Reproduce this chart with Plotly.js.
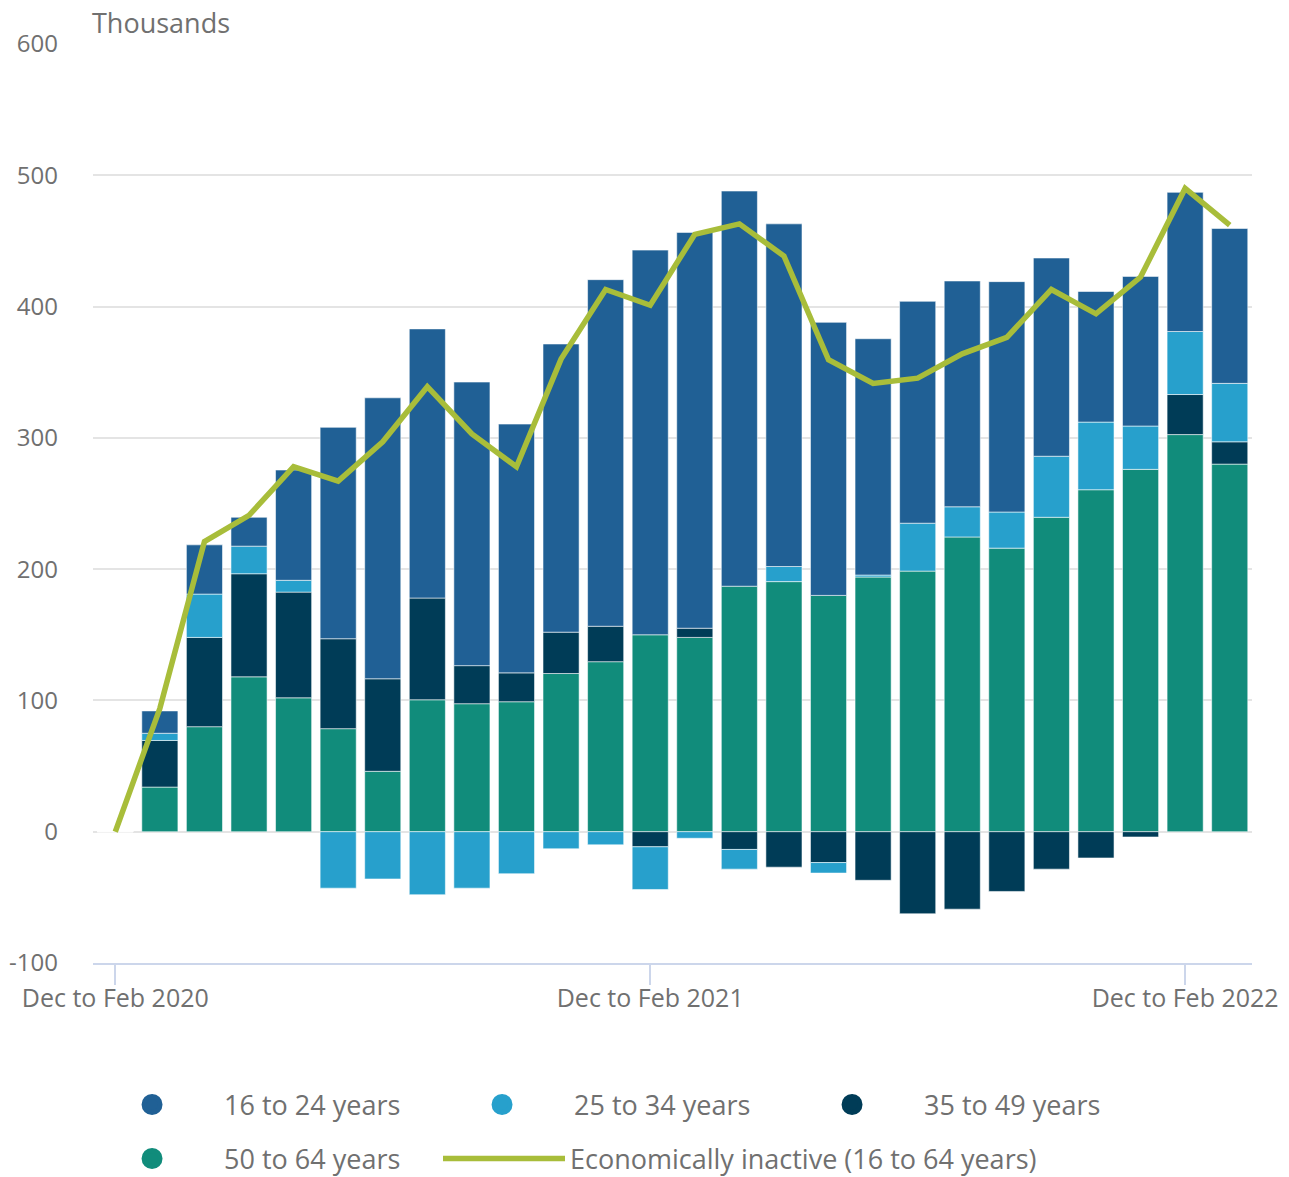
<!DOCTYPE html>
<html>
<head>
<meta charset="utf-8">
<script src="https://cdn.plot.ly/plotly-3.0.1.min.js"></script>
<style>
  html, body { margin: 0; padding: 0; background: #ffffff; }
  #chart { width: 1289px; height: 1177px; }
</style>
</head>
<body>
<div id="chart"></div>
<script>
// Rolling three-month periods
const periods = [
  "Dec to Feb 2020", "Jan to Mar 2020", "Feb to Apr 2020", "Mar to May 2020",
  "Apr to June 2020", "May to July 2020", "June to Aug 2020", "July to Sept 2020",
  "Aug to Oct 2020", "Sept to Nov 2020", "Oct to Dec 2020", "Nov to Jan 2021",
  "Dec to Feb 2021", "Jan to Mar 2021", "Feb to Apr 2021", "Mar to May 2021",
  "Apr to June 2021", "May to July 2021", "June to Aug 2021", "July to Sept 2021",
  "Aug to Oct 2021", "Sept to Nov 2021", "Oct to Dec 2021", "Nov to Jan 2022",
  "Dec to Feb 2022", "Jan to Mar 2022"
];
const tickLabels = ["Dec to Feb 2020", "Dec to Feb 2021", "Dec to Feb 2022"];
const yTickValues = [-100, 0, 100, 200, 300, 400, 500, 600];
const yTickLabels = ["-100", "0", "100", "200", "300", "400", "500", "600"];

// Change in economic inactivity, thousands
const age16to24 = [0, 17, 37.5, 22, 84, 161, 214, 205, 216, 189.5, 219.5, 264, 293, 301.5, 301, 261, 208, 180, 169, 172, 175.5, 151, 99.5, 114, 106, 118];
const age25to34 = [0, 5.5, 33, 21, 9, -43, -36, -48, -43, -32, -13, -10, -32.5, -5, -15, 11.5, -8, 1.5, 36.5, 23, 27.5, 46.5, 51.5, 33, 48, 44.5];
const age35to49 = [0, 35.5, 68, 78.5, 80.5, 68.5, 70.5, 77.5, 29, 22, 31.5, 27, -11.5, 7, -13.5, -27, -23.5, -37, -62.5, -59, -45.5, -28.5, -20, -4, 30.5, 17];
const age50to64 = [0, 34, 80, 118, 102, 78.5, 46, 100.5, 97.5, 99, 120.5, 129.5, 150, 148, 187, 190.5, 180, 194, 198.5, 224.5, 216, 239.5, 260.5, 276, 302.5, 280];
const inactive16to64 = [0, 94, 221, 241, 278, 267, 297, 339, 303, 278, 360, 413, 401, 455, 463, 438.5, 359.5, 341.5, 345.5, 364, 376.5, 413, 394.5, 422.5, 490, 462];

const seriesNames = ["16 to 24 years", "25 to 34 years", "35 to 49 years", "50 to 64 years"];
const lineName = "Economically inactive (16 to 64 years)";

const colors = {
  a: "#206095", b: "#27a0cc", c: "#003c57", d: "#118c7b", line: "#a8bd3a"
};
const textColor = "#707070";
const fontFamily = "'Open Sans', 'Noto Sans', sans-serif";

function barTrace(name, values, color) {
  return {
    type: "bar", name: name, x: periods, y: values,
    marker: { color: color, line: { color: "rgba(255,255,255,0.55)", width: 1 } },
    showlegend: false, hoverinfo: "skip"
  };
}
function legendDot(name, color, legendId, rank) {
  return {
    type: "scatter", mode: "markers", name: name, x: [null], y: [null],
    marker: { color: color, size: 16, symbol: "circle", line: { color: color, width: 8 } },
    legend: legendId, legendrank: rank, hoverinfo: "skip"
  };
}

const data = [
  // stacking order: bottom-up positive, nearest-zero first negative
  barTrace(seriesNames[3], age50to64, colors.d),
  barTrace(seriesNames[2], age35to49, colors.c),
  barTrace(seriesNames[1], age25to34, colors.b),
  barTrace(seriesNames[0], age16to24, colors.a),
  {
    type: "scatter", mode: "lines", name: lineName, x: periods, y: inactive16to64,
    line: { color: colors.line, width: 5.5 }, legend: "legend3",
    hoverinfo: "skip", cliponaxis: false
  },
  legendDot(seriesNames[0], colors.a, "legend", 1),
  legendDot(seriesNames[1], colors.b, "legend", 2),
  legendDot(seriesNames[2], colors.c, "legend", 3),
  legendDot(seriesNames[3], colors.d, "legend2", 1)
];

const legendCommon = {
  orientation: "h", xanchor: "left", yanchor: "middle",
  xref: "container", yref: "container",
  font: { family: fontFamily, size: 27, color: textColor },
  itemwidth: 134, traceorder: "normal",
  bgcolor: "rgba(0,0,0,0)", itemclick: false, itemdoubleclick: false
};

const layout = {
  width: 1289, height: 1177,
  margin: { l: 93, r: 37, t: 44, b: 214 },
  paper_bgcolor: "#ffffff", plot_bgcolor: "#ffffff",
  font: { family: fontFamily, color: textColor },
  barmode: "relative", bargap: 0.19,
  xaxis: {
    type: "category", range: [-0.5, 25.5],
    tickmode: "array", tickvals: tickLabels, ticktext: tickLabels,
    ticks: "outside", ticklen: 20, tickwidth: 2, tickcolor: "#ccd6eb",
    showline: true, linecolor: "#ccd6eb", linewidth: 2,
    showgrid: false, zeroline: false, ticklabelstandoff: -8,
    tickfont: { family: fontFamily, size: 25, color: textColor },
    fixedrange: true
  },
  yaxis: {
    range: [-100, 600], tickmode: "array", tickvals: yTickValues, ticktext: yTickLabels,
    showgrid: true, gridcolor: "#e4e4e4", gridwidth: 2,
    zeroline: false, showline: false, ticks: "",
    ticklabelstandoff: 34,
    tickfont: { family: fontFamily, size: 24, color: textColor },
    fixedrange: true
  },
  legend: Object.assign({}, legendCommon, { x: 0.0621, y: 0.0612, entrywidth: 201 }),
  legend2: Object.assign({}, legendCommon, { x: 0.0621, y: 0.0153 }),
  legend3: Object.assign({}, legendCommon, { x: 0.3398, y: 0.0153, itemwidth: 122 }),
  annotations: [{
    text: "Thousands", xref: "paper", yref: "paper", x: 0, y: 1,
    xanchor: "left", yanchor: "bottom", showarrow: false, xshift: -3, yshift: 1,
    font: { family: fontFamily, size: 27, color: textColor }
  }]
};

Plotly.newPlot("chart", data, layout, { displayModeBar: false, staticPlot: true });
</script>
</body>
</html>
